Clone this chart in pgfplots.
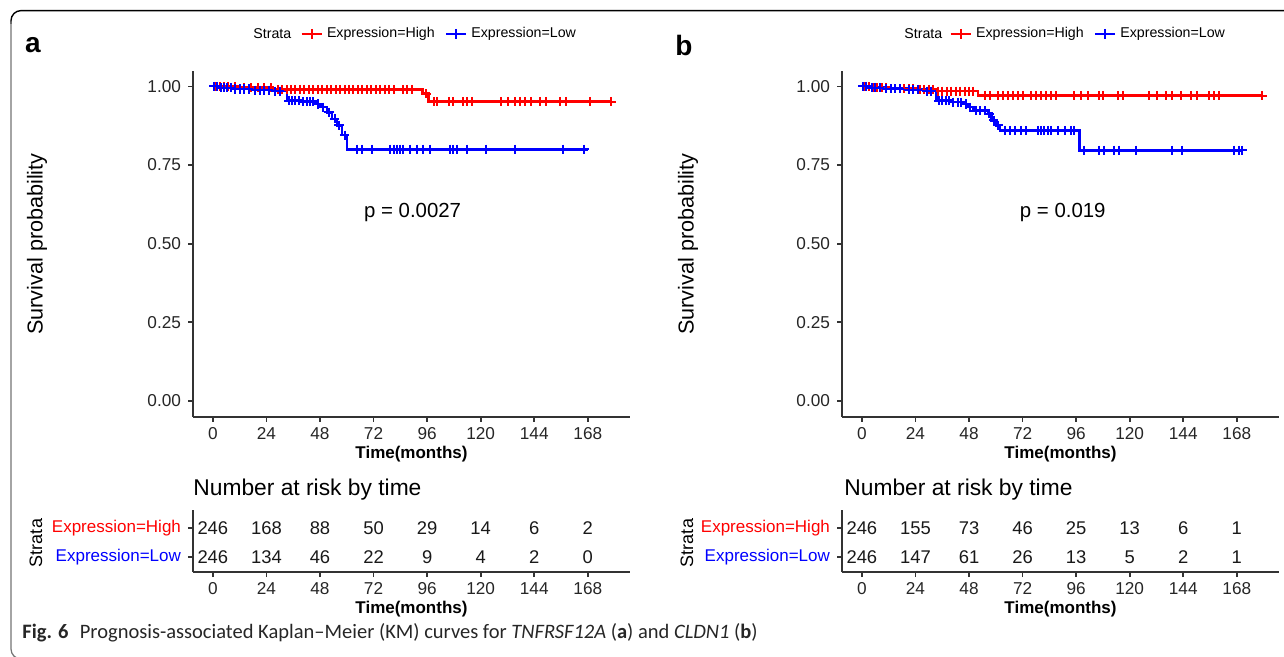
\documentclass[border=0pt]{standalone}
\usepackage{fontspec}
\setmainfont{Liberation Sans}
\newfontfamily\capfont{Carlito}
\usepackage{pgfplots}
\pgfplotsset{compat=1.18}

\definecolor{axgray}{HTML}{333333}
\definecolor{kmred}{HTML}{FF0000}
\definecolor{kmblue}{HTML}{0000FF}

\pgfplotsset{
  common/.style={
    scale only axis, width=218.5pt,
    xmin=-8.9, xmax=186.9,
    axis x line*=bottom, axis y line*=left,
    axis line style={axgray, line width=0.9pt, -},
    tick align=outside, major tick length=2.5pt,
    tick style={axgray, line width=0.9pt},
    xtick={0,24,...,168},
    /pgf/number format/assume math mode=true,
    ticklabel style={font=\fontsize{8.6}{10}\selectfont, text=black!85},
    x tick label style={text height=6.3pt, text depth=0pt, inner sep=0pt, anchor=north, yshift=-2.2pt},
    xlabel={\textbf{Time(months)}},
    xlabel style={font=\fontsize{8.5}{10}\selectfont, at={(axis description cs:0.5,0)}, anchor=center, yshift=-18.8pt},
    clip=false,
  },
  kmaxis/.style={common, height=173pt,
    ymin=-0.05, ymax=1.05,
    ytick={0,0.25,0.5,0.75,1},
    y tick label style={/pgf/number format/.cd, fixed, fixed zerofill, precision=2, /tikz/.cd},
  },
  riskaxis/.style={common, height=31pt,
    ymin=0.483, ymax=2.62, ytick={1,2},
    yticklabels={\textcolor{kmblue}{Expression=Low},\textcolor{kmred}{Expression=High}},
    y tick label style={font=\fontsize{8.5}{10}\selectfont},
  },
  curve/.style={line width=1.3pt, const plot, forget plot},
  cens/.style={only marks, mark=+, mark size=2.3pt, mark options={line width=1pt}, forget plot},
  riskrow/.style={draw=none, mark=none, nodes near coords, point meta=explicit symbolic,
    every node near coord/.append style={anchor=center, font=\fontsize{9.2}{11}\selectfont, text=black!90}},
}

\begin{document}
\begin{tikzpicture}
\path[use as bounding box] (0,0) rectangle (642pt,-328.5pt);
\begin{scope}
\clip (0,0) rectangle (642pt,-328.5pt);
\draw[black, line width=0.7pt, rounded corners=5pt] (700pt,-5.3pt) -- (5.5pt,-5.3pt) -- (5.5pt,-12pt);
\draw[black!55, line width=0.6pt, rounded corners=5pt] (5.5pt,-11pt) -- (5.5pt,-329.5pt) -- (40pt,-329.5pt);
\end{scope}

% ---------------- panel a ----------------
\begin{axis}[kmaxis, at={(96.5pt,-208.35pt)}, anchor=south west,
  legend style={at={(axis description cs:0.2449,1.106)}, anchor=west, draw=none, fill=none,
    legend columns=-1, font=\fontsize{7.1}{8.5}\selectfont, inner sep=0pt,
    /tikz/every even column/.append style={column sep=3pt}},
  legend image code/.code={\draw[mark repeat=2, mark phase=2, #1] plot coordinates {(0pt,0pt) (5pt,0pt) (10pt,0pt)};}]
\addlegendimage{kmred, line width=1.3pt, mark=+, mark size=2.6pt, mark options={line width=0.9pt}}
\addlegendentry{Expression=High}
\addlegendimage{kmblue, line width=1.3pt, mark=+, mark size=2.6pt, mark options={line width=0.9pt}}
\addlegendentry{Expression=Low}
% High
\addplot[kmred, curve] coordinates {(0,1) (12,0.996) (27,0.99) (94,0.977) (96.6,0.952) (178.4,0.952)};
\addplot[kmred, cens] coordinates {
 (1,1) (3,1) (5,1) (7,1) (10,1) (14,0.996) (17,0.996) (20,0.996) (23,0.996) (26,0.996)
 (29,0.99) (31,0.99) (33,0.99) (35,0.99) (37,0.99) (39,0.99) (41,0.99) (43,0.99) (45,0.99)
 (47,0.99) (49,0.99) (51,0.99) (53,0.99) (55,0.99) (57,0.99) (59,0.99) (61,0.99) (63,0.99)
 (65,0.99) (67,0.99) (69,0.99) (71,0.99) (73,0.99) (75,0.99) (77,0.99) (79,0.99) (81,0.99)
 (85,0.99) (87,0.99) (89,0.99) (95.5,0.977)
 (99,0.952) (100.3,0.952) (106,0.952) (107.5,0.952) (112,0.952) (113.7,0.952) (115.9,0.952)
 (129.3,0.952) (132.3,0.952) (135.3,0.952) (137.5,0.952) (139.7,0.952) (142.7,0.952)
 (146.4,0.952) (149.4,0.952) (155.4,0.952) (158.3,0.952) (168.8,0.952) (178.4,0.952)};
% Low
\addplot[kmblue, curve] coordinates {(0,1) (3,0.996) (9,0.992) (18,0.988) (27,0.985) (33.3,0.955)
 (40,0.952) (46,0.944) (48.2,0.934) (51.2,0.918) (53.4,0.897) (55.7,0.876) (57.9,0.845)
 (60.1,0.80) (167.9,0.80)};
\addplot[kmblue, cens] coordinates {
 (0.5,1) (2,1) (3.5,0.996) (5,0.996) (6.5,0.996) (8,0.996) (10,0.992) (12,0.992) (14,0.992)
 (16,0.992) (19,0.988) (21,0.988) (23,0.988) (25,0.988) (28,0.985) (30,0.985)
 (34,0.955) (35.5,0.955) (37,0.955) (38.5,0.955) (40.5,0.952) (42,0.952) (43.5,0.952)
 (45,0.952) (47,0.944) (49.5,0.934) (52,0.918) (54.5,0.897) (56.5,0.876) (59,0.845)
 (64.6,0.8) (66.8,0.8) (71.3,0.8) (79.5,0.8) (81,0.8) (82.4,0.8) (83.9,0.8) (85.4,0.8)
 (88.4,0.8) (91.4,0.8) (94.3,0.8) (97.3,0.8) (106.3,0.8) (107.7,0.8) (109.2,0.8)
 (113.7,0.8) (122.6,0.8) (135.3,0.8) (156.8,0.8) (166.5,0.8)};
\node[font=\fontsize{10.2}{12}\selectfont] at (axis cs:89.5,0.6) {p = 0.0027};
\end{axis}

\begin{axis}[riskaxis, at={(96.5pt,-286pt)}, anchor=south west]
\addplot[riskrow] coordinates {(0,2)[246] (24,2)[168] (48,2)[88] (72,2)[50] (96,2)[29] (120,2)[14] (144,2)[6] (168,2)[2]};
\addplot[riskrow] coordinates {(0,1)[246] (24,1)[134] (48,1)[46] (72,1)[22] (96,1)[9] (120,1)[4] (144,1)[2] (168,1)[0]};
\end{axis}

% ---------------- panel b ----------------
\begin{axis}[kmaxis, at={(421pt,-208.35pt)}, anchor=south west,
  legend style={at={(axis description cs:0.2449,1.106)}, anchor=west, draw=none, fill=none,
    legend columns=-1, font=\fontsize{7.1}{8.5}\selectfont, inner sep=0pt,
    /tikz/every even column/.append style={column sep=3pt}},
  legend image code/.code={\draw[mark repeat=2, mark phase=2, #1] plot coordinates {(0pt,0pt) (5pt,0pt) (10pt,0pt)};}]
\addlegendimage{kmred, line width=1.3pt, mark=+, mark size=2.6pt, mark options={line width=0.9pt}}
\addlegendentry{Expression=High}
\addlegendimage{kmblue, line width=1.3pt, mark=+, mark size=2.6pt, mark options={line width=0.9pt}}
\addlegendentry{Expression=Low}
% High
\addplot[kmred, curve] coordinates {(0,1) (5,0.996) (12,0.993) (25,0.99) (33,0.985) (52.1,0.971) (179.3,0.971)};
\addplot[kmred, cens] coordinates {
 (1,1) (3,1) (5.5,0.996) (7,0.996) (9,0.996) (11,0.996) (13,0.993) (15,0.993) (17,0.993)
 (19,0.993) (21,0.993) (23,0.993) (26,0.99) (28,0.99) (30,0.99) (32,0.99) (34,0.985)
 (36,0.985) (38,0.985) (40,0.985) (42,0.985) (44,0.985) (46,0.985) (48,0.985) (50,0.985)
 (55.1,0.971) (57.3,0.971) (61,0.971) (63.2,0.971) (65.5,0.971) (67.7,0.971) (69.9,0.971)
 (72.2,0.971) (75.9,0.971) (78.1,0.971) (80.4,0.971) (82.6,0.971) (84.8,0.971) (87.1,0.971)
 (95.2,0.971) (98.2,0.971) (101.2,0.971) (106.4,0.971) (107.9,0.971) (114.6,0.971)
 (116.8,0.971) (128.7,0.971) (132.4,0.971) (136.2,0.971) (139.1,0.971) (142.9,0.971)
 (147.3,0.971) (150.3,0.971) (155.5,0.971) (157.7,0.971) (159.9,0.971) (179.3,0.971)};
% Low
\addplot[kmblue, curve] coordinates {(0,1) (4,0.996) (10,0.993) (20,0.99) (28,0.985) (33.5,0.955)
 (40,0.95) (46.1,0.944) (47.6,0.934) (49.9,0.923) (56.5,0.913) (58,0.892) (60.3,0.876)
 (61.8,0.86) (97.5,0.797) (170.4,0.797)};
\addplot[kmblue, cens] coordinates {
 (0.5,1) (2,1) (4.5,0.996) (6,0.996) (8,0.996) (11,0.993) (13,0.993) (15,0.993) (17,0.993)
 (21,0.99) (23,0.99) (25,0.99) (29,0.985) (31,0.985) (34.5,0.955) (36,0.955) (37.5,0.955)
 (39,0.955) (41,0.95) (43,0.95) (44.5,0.95) (46.5,0.944) (48.5,0.934) (51,0.923) (53,0.923)
 (55,0.923) (57,0.913) (59,0.892) (61,0.876)
 (64,0.86) (66.2,0.86) (68.5,0.86) (71.4,0.86) (73.7,0.86) (78.9,0.86) (80.4,0.86)
 (81.8,0.86) (83.3,0.86) (84.8,0.86) (87.8,0.86) (90.8,0.86) (93.8,0.86) (95.2,0.86)
 (99.7,0.797) (106.4,0.797) (108.6,0.797) (113.1,0.797) (115.3,0.797) (122.8,0.797)
 (139.1,0.797) (143.6,0.797) (166.7,0.797) (169,0.797) (170.4,0.797)};
\node[font=\fontsize{10.2}{12}\selectfont] at (axis cs:90,0.6) {p = 0.019};
\end{axis}

\begin{axis}[riskaxis, at={(421pt,-286pt)}, anchor=south west]
\addplot[riskrow] coordinates {(0,2)[246] (24,2)[155] (48,2)[73] (72,2)[46] (96,2)[25] (120,2)[13] (144,2)[6] (168,2)[1]};
\addplot[riskrow] coordinates {(0,1)[246] (24,1)[147] (48,1)[61] (72,1)[26] (96,1)[13] (120,1)[5] (144,1)[2] (168,1)[1]};
\end{axis}

% ---------------- free texts ----------------
\foreach \dx/\lt in {0pt/a, 325.5pt/b} {
  \begin{scope}[xshift=\dx]
  \node[font=\fontsize{14}{16}\selectfont\bfseries] at (16.5pt,-22.5pt) {\lt};
  \node[font=\fontsize{7.1}{8.5}\selectfont, anchor=west, inner sep=0pt] at (126.5pt,-17pt) {Strata};
  \node[rotate=90, font=\fontsize{10.8}{12}\selectfont] at (18.5pt,-122pt) {Survival probability};
  \node[font=\fontsize{11.4}{13}\selectfont, anchor=west, inner sep=0pt] at (96.5pt,-245pt) {Number at risk by time};
  \node[rotate=90, font=\fontsize{9}{11}\selectfont] at (18pt,-271.5pt) {Strata};
  \end{scope}
}
\node[anchor=west, inner sep=0pt, text=black!85] at (11pt,-316.5pt)
  {\capfont\fontsize{10.25}{12}\selectfont\textbf{Fig. 6}\hspace{0.55em}Prognosis-associated Kaplan–Meier (KM) curves for \textit{TNFRSF12A} (\textbf{a}) and \textit{CLDN1} (\textbf{b})};
\end{tikzpicture}
\end{document}
